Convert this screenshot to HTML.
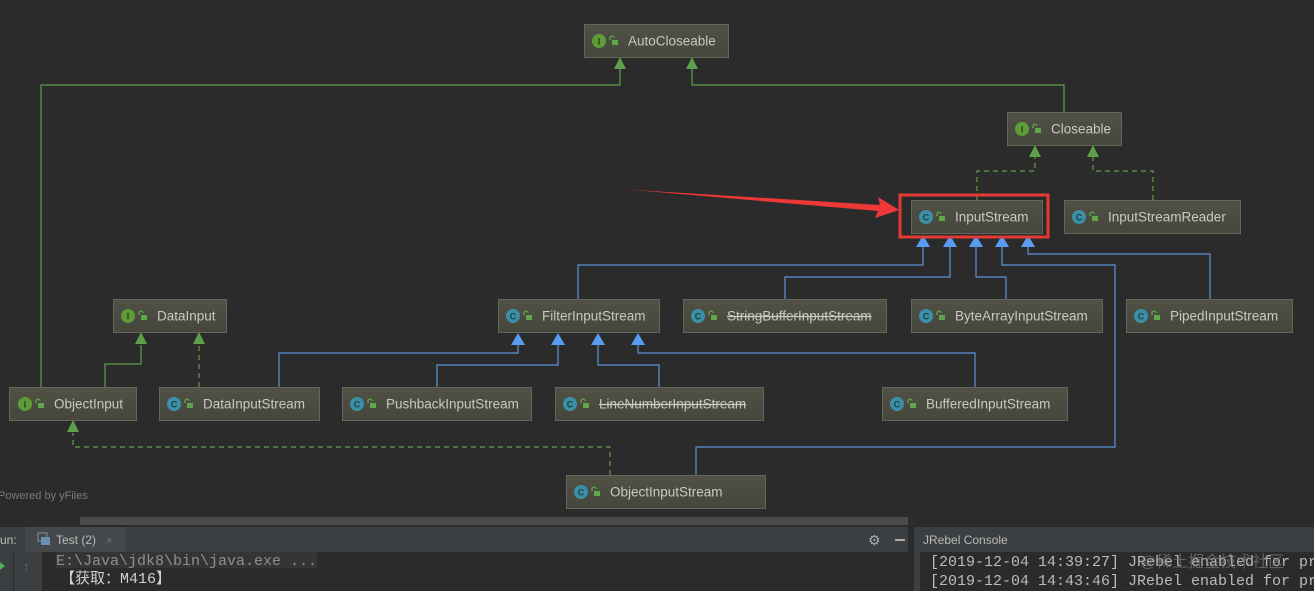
<!DOCTYPE html>
<html><head><meta charset="utf-8"><style>
html,body{margin:0;padding:0;background:#2b2b2b;width:1314px;height:591px;overflow:hidden}
svg{display:block}
text{font-family:"Liberation Sans","Noto Sans CJK SC",sans-serif}
.lbl{fill:#c9c9c0;font-size:13.5px}
.mono{font-family:"Liberation Mono","Noto Sans CJK SC",monospace;font-size:15px}
</style></head><body>
<svg width="1314" height="591" viewBox="0 0 1314 591" xmlns="http://www.w3.org/2000/svg">
<defs>
<linearGradient id="ng" x1="0" y1="0" x2="0" y2="1"><stop offset="0" stop-color="#515146"/><stop offset="1" stop-color="#45463c"/></linearGradient>
<g id="lock"><rect x="0" y="3" width="6" height="5" fill="#5fa84a"/><path d="M1 3 V1 a2 2 0 0 1 4 0" stroke="#5fa84a" stroke-width="1.3" fill="none" transform="translate(-3,0)"/></g>
</defs>
<rect width="1314" height="591" fill="#2b2b2b"/>

<g stroke="#5f9e4a" stroke-width="1.2" fill="none">
<path d="M41 387 V85 H620 V68"/>
<path d="M1064 112 V85 H692 V68"/>
<path d="M105 387 V364 H141 V345"/>
</g>
<g stroke="#5f9e4a" stroke-width="1.2" fill="none" stroke-dasharray="5,4">
<path d="M977 200 V171 H1035 V157"/>
<path d="M1153 200 V171 H1093 V157"/>
<path d="M199 387 V345"/>
<path d="M610 475 V447 H73 V433"/>
</g>
<g fill="#5f9e4a">
<path d="M620 57 l-6 12 h12z"/><path d="M692 57 l-6 12 h12z"/>
<path d="M1035 145 l-6 12 h12z"/><path d="M1093 145 l-6 12 h12z"/>
<path d="M141 332 l-6 12 h12z"/><path d="M199 332 l-6 12 h12z"/>
<path d="M73 420 l-6 12 h12z"/>
</g>

<g stroke="#5a93d8" stroke-width="1.2" fill="none">
<path d="M578 299 V265 H923 V247"/>
<path d="M785 299 V277 H950 V247"/>
<path d="M1006 299 V277 H976 V247"/>
<path d="M696 475 V447 H1115 V265 H1002 V247"/>
<path d="M1210 299 V254 H1028 V247"/>
<path d="M279 387 V353 H518 V345"/>
<path d="M437 387 V365 H558 V345"/>
<path d="M659 387 V365 H598 V345"/>
<path d="M975 387 V353 H638 V345"/>
</g>
<g fill="#5a9cf0">
<path d="M923 235 l-7 12 h14z"/><path d="M950 235 l-7 12 h14z"/><path d="M976 235 l-7 12 h14z"/><path d="M1002 235 l-7 12 h14z"/><path d="M1028 235 l-7 12 h14z"/>
<path d="M518 333 l-7 12 h14z"/><path d="M558 333 l-7 12 h14z"/><path d="M598 333 l-7 12 h14z"/><path d="M638 333 l-7 12 h14z"/>
</g>

<g stroke="#66665b" stroke-width="1" fill="url(#ng)">
<rect x="584.5" y="24.5" width="144" height="33"/>
<rect x="1007.5" y="112.5" width="114" height="33"/>
<rect x="911.5" y="200.5" width="131" height="33"/>
<rect x="1064.5" y="200.5" width="176" height="33"/>
<rect x="113.5" y="299.5" width="113" height="33"/>
<rect x="498.5" y="299.5" width="161" height="33"/>
<rect x="683.5" y="299.5" width="203" height="33"/>
<rect x="911.5" y="299.5" width="191" height="33"/>
<rect x="1126.5" y="299.5" width="166" height="33"/>
<rect x="9.5" y="387.5" width="127" height="33"/>
<rect x="159.5" y="387.5" width="160" height="33"/>
<rect x="342.5" y="387.5" width="189" height="33"/>
<rect x="555.5" y="387.5" width="208" height="33"/>
<rect x="882.5" y="387.5" width="185" height="33"/>
<rect x="566.5" y="475.5" width="199" height="33"/>
</g>

<g font-size="9" font-weight="bold" text-anchor="middle">
<circle cx="599" cy="41" r="7" fill="#5e9c3a"/><text x="599" y="44.5" fill="#2b3a20">I</text>
<circle cx="1022" cy="129" r="7" fill="#5e9c3a"/><text x="1022" y="132.5" fill="#2b3a20">I</text>
<circle cx="926" cy="217" r="7" fill="#3d8fa6"/><text x="926" y="220.5" fill="#1c3d48">C</text>
<circle cx="1079" cy="217" r="7" fill="#3d8fa6"/><text x="1079" y="220.5" fill="#1c3d48">C</text>
<circle cx="128" cy="316" r="7" fill="#5e9c3a"/><text x="128" y="319.5" fill="#2b3a20">I</text>
<circle cx="513" cy="316" r="7" fill="#3d8fa6"/><text x="513" y="319.5" fill="#1c3d48">C</text>
<circle cx="698" cy="316" r="7" fill="#3d8fa6"/><text x="698" y="319.5" fill="#1c3d48">C</text>
<circle cx="926" cy="316" r="7" fill="#3d8fa6"/><text x="926" y="319.5" fill="#1c3d48">C</text>
<circle cx="1141" cy="316" r="7" fill="#3d8fa6"/><text x="1141" y="319.5" fill="#1c3d48">C</text>
<circle cx="25" cy="404" r="7" fill="#5e9c3a"/><text x="25" y="407.5" fill="#2b3a20">I</text>
<circle cx="174" cy="404" r="7" fill="#3d8fa6"/><text x="174" y="407.5" fill="#1c3d48">C</text>
<circle cx="357" cy="404" r="7" fill="#3d8fa6"/><text x="357" y="407.5" fill="#1c3d48">C</text>
<circle cx="570" cy="404" r="7" fill="#3d8fa6"/><text x="570" y="407.5" fill="#1c3d48">C</text>
<circle cx="897" cy="404" r="7" fill="#3d8fa6"/><text x="897" y="407.5" fill="#1c3d48">C</text>
<circle cx="581" cy="492" r="7" fill="#3d8fa6"/><text x="581" y="495.5" fill="#1c3d48">C</text>
</g>
<g>
<use href="#lock" x="612" y="37"/><use href="#lock" x="1035" y="125"/><use href="#lock" x="939" y="213"/><use href="#lock" x="1092" y="213"/>
<use href="#lock" x="141" y="312"/><use href="#lock" x="526" y="312"/><use href="#lock" x="711" y="312"/><use href="#lock" x="939" y="312"/><use href="#lock" x="1154" y="312"/>
<use href="#lock" x="38" y="400"/><use href="#lock" x="187" y="400"/><use href="#lock" x="370" y="400"/><use href="#lock" x="583" y="400"/><use href="#lock" x="910" y="400"/><use href="#lock" x="594" y="488"/>
</g>
<g class="lbl">
<text x="628" y="45.5">AutoCloseable</text>
<text x="1051" y="133.5">Closeable</text>
<text x="955" y="221.5">InputStream</text>
<text x="1108" y="221.5">InputStreamReader</text>
<text x="157" y="320.5">DataInput</text>
<text x="542" y="320.5">FilterInputStream</text>
<text x="727" y="320.5" text-decoration="line-through">StringBufferInputStream</text>
<text x="955" y="320.5">ByteArrayInputStream</text>
<text x="1170" y="320.5">PipedInputStream</text>
<text x="54" y="408.5">ObjectInput</text>
<text x="203" y="408.5">DataInputStream</text>
<text x="386" y="408.5">PushbackInputStream</text>
<text x="599" y="408.5" text-decoration="line-through">LineNumberInputStream</text>
<text x="926" y="408.5">BufferedInputStream</text>
<text x="610" y="496.5">ObjectInputStream</text>
</g>

<rect x="900" y="195" width="148" height="42" fill="none" stroke="#e53935" stroke-width="3"/>
<path d="M627 189.5 L880 205 L878 197 L899 210 L875 218 L878 211 Z" fill="#ee3838"/>

<text x="-2" y="499" fill="#7a7a7a" font-size="11">Powered by yFiles</text>

<rect x="80" y="517" width="828" height="8" fill="#4b4b4b"/>
<rect x="0" y="527" width="1314" height="25" fill="#3c3f41"/>
<rect x="25" y="527" width="100" height="25" fill="#45484a"/>
<text x="0" y="544" fill="#bbbbbb" font-size="12">un:</text>
<rect x="38" y="533" width="9" height="8" fill="none" stroke="#8a8f93"/><rect x="41" y="537" width="9" height="8" fill="#6a8fb0"/>
<text x="56" y="544" fill="#bbbbbb" font-size="12">Test (2)</text>
<text x="106" y="544" fill="#777" font-size="11">×</text>
<text x="868" y="545" fill="#aaaaaa" font-size="14">⚙</text>
<rect x="895" y="539" width="10" height="2" fill="#aaaaaa"/>
<rect x="908" y="527" width="6" height="64" fill="#2b2b2b"/>
<text x="923" y="544" fill="#bbbbbb" font-size="12">JRebel Console</text>
<rect x="0" y="552" width="13" height="39" fill="#3c3f41"/>
<rect x="14" y="552" width="28" height="39" fill="#3c3f41"/>
<path d="M0 562 l5 4 -5 4z" fill="#4caf50"/>
<text x="23" y="571" fill="#666" font-size="13">↑</text>
<rect x="56" y="552" width="261" height="16" fill="#333537"/>
<text x="56" y="565" class="mono" fill="#8f8f8f">E:\Java\jdk8\bin\java.exe ...</text>
<text x="60" y="583" class="mono" fill="#d0d0d0">【获取：M416】</text>
<rect x="914" y="552" width="6" height="39" fill="#3c3f41"/>
<text x="930" y="566" class="mono" fill="#bbbbbb">[2019-12-04 14:39:27] JRebel enabled for pr</text>
<text x="930" y="585" class="mono" fill="#bbbbbb">[2019-12-04 14:43:46] JRebel enabled for pr</text>
<text x="1140" y="567" fill="#777" font-size="16" opacity="0.7">@稀土掘金技术社区</text>
</svg>
</body></html>
